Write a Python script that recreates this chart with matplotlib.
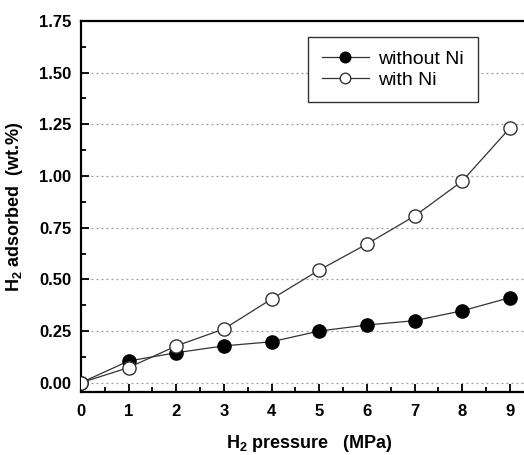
import numpy as np
import matplotlib
matplotlib.use("Agg")
import matplotlib.pyplot as plt
from matplotlib.ticker import MultipleLocator

plt.rcParams['font.family'] = ['Liberation Sans', 'DejaVu Sans']
plt.rcParams['mathtext.fontset'] = 'custom'
plt.rcParams['mathtext.rm'] = 'Liberation Sans'
plt.rcParams['mathtext.bf'] = 'Liberation Sans:bold'

# data
pressure = [0, 1, 2, 3, 4, 5, 6, 7, 8, 9]
without_ni = [0.0, 0.105, 0.145, 0.178, 0.198, 0.250, 0.279, 0.300, 0.348, 0.411]
with_ni = [0.0, 0.073, 0.178, 0.260, 0.405, 0.545, 0.671, 0.806, 0.975, 1.232]

fig = plt.figure(figsize=(5.24, 4.55), dpi=100)
ax = fig.add_axes([0.1546, 0.1385, 0.873, 0.8154])

ax.plot(pressure, without_ni, '-o', color='#333333', lw=0.9,
        mfc='black', mec='black', ms=9.5, label='without Ni', zorder=3)
ax.plot(pressure, with_ni, '-o', color='#333333', lw=0.9,
        mfc='white', mec='#333333', mew=1.0, ms=9.5, label='with Ni', zorder=3)

ax.set_xlim(0, 9.6)
ax.set_ylim(-0.045, 1.75)
ax.xaxis.set_major_locator(MultipleLocator(1))
ax.xaxis.set_minor_locator(MultipleLocator(0.5))
ax.yaxis.set_minor_locator(MultipleLocator(0.125))
ax.set_yticks([0, 0.25, 0.5, 0.75, 1.0, 1.25, 1.5, 1.75])
ax.set_yticklabels(['0.00', '0.25', '0.50', '0.75', '1.00', '1.25', '1.50', '1.75'])

ax.tick_params(which='both', direction='in', width=1.3, top=False, right=False)
ax.tick_params(which='major', length=6, labelsize=12)
ax.tick_params(axis='x', which='major', pad=9)
ax.tick_params(axis='y', which='major', pad=7)
ax.tick_params(which='minor', length=3.5)
for lab in ax.get_xticklabels() + ax.get_yticklabels():
    lab.set_fontweight('bold')

for s in ['left', 'bottom', 'top']:
    ax.spines[s].set_linewidth(1.6)
ax.spines['right'].set_visible(False)

for yv in [0, 0.25, 0.5, 0.75, 1.0, 1.25, 1.5]:
    ax.axhline(yv, color='#999999', ls=(0, (1.5, 2.5)), lw=0.9, zorder=1)

ax.set_xlabel(r'H$_{\mathbf{2}}$ pressure   (MPa)', fontsize=13, fontweight='bold', labelpad=10)
ax.set_ylabel(r'H$_{\mathbf{2}}$ adsorbed  (wt.%)', fontsize=13, fontweight='bold', labelpad=10)

leg = ax.legend(loc='upper left', bbox_to_anchor=(0.497, 0.957), borderaxespad=0,
                fontsize=14, frameon=True, fancybox=False, edgecolor='#333333',
                framealpha=1, handlelength=2.4, handletextpad=0.5, borderpad=0.7,
                labelspacing=0.15, markerscale=0.8)
leg.get_frame().set_linewidth(1.0)

fig.savefig('out.png', dpi=100)
